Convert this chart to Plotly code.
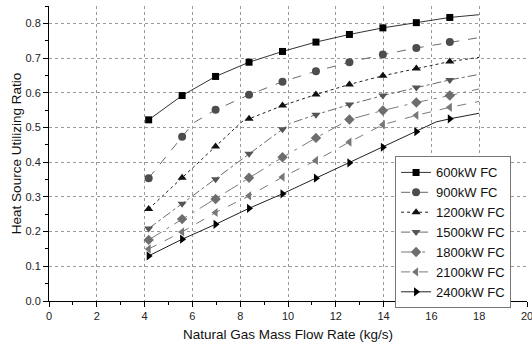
import plotly.graph_objects as go

# ---- data ----
x_markers = [4.17, 5.57, 6.97, 8.37, 9.77, 11.17, 12.57, 13.97, 15.37, 16.77]
x_end = 18.0

names = ["600kW FC", "900kW FC", "1200kW FC", "1500kW FC", "1800kW FC", "2100kW FC", "2400kW FC"]

y600 = [0.522, 0.592, 0.647, 0.688, 0.719, 0.746, 0.768, 0.787, 0.802, 0.817]
y900 = [0.354, 0.473, 0.551, 0.594, 0.632, 0.662, 0.688, 0.710, 0.729, 0.746]
y1200 = [0.265, 0.355, 0.445, 0.525, 0.563, 0.595, 0.624, 0.649, 0.670, 0.690]
y1500 = [0.209, 0.280, 0.351, 0.424, 0.495, 0.537, 0.566, 0.592, 0.615, 0.637]
y1800 = [0.176, 0.236, 0.294, 0.355, 0.414, 0.470, 0.523, 0.549, 0.572, 0.592]
y2100 = [0.150, 0.199, 0.255, 0.303, 0.357, 0.405, 0.458, 0.508, 0.535, 0.558]
y2400 = [0.130, 0.178, 0.221, 0.267, 0.309, 0.354, 0.398, 0.443, 0.488, 0.525]

# value of each curve at the end of its line (x = 18)
y_end = [0.825, 0.759, 0.702, 0.653, 0.611, 0.575, 0.541]

# extra (unmarked) points where a curve bends
kink_x = [None, 6.04, 8.08, 10.10, 12.25, None, 16.20]
kink_y = [None, 0.513, 0.517, 0.512, 0.512, None, 0.516]

series_y = [y600, y900, y1200, y1500, y1800, y2100, y2400]

# ---- styles ----
symbols = ["square", "circle", "triangle-up", "triangle-down", "diamond", "triangle-left", "triangle-right"]
marker_colors = ["#000000", "#4d4d4d", "#111111", "#555555", "#6e6e6e", "#777777", "#000000"]
line_colors = ["#333333", "#6a6a6a", "#222222", "#6a6a6a", "#7a7a7a", "#7a7a7a", "#222222"]
dashes = ["solid", "dash", "dot", "dashdot", "longdashdot", "dash", "solid"]
msizes = [7, 8, 8, 8, 8, 8, 8]

fig = go.Figure()

for i, name in enumerate(names):
    pts = list(zip(x_markers, series_y[i])) + [(x_end, y_end[i])]
    if kink_x[i] is not None:
        pts.append((kink_x[i], kink_y[i]))
    pts.sort()
    lx = [p[0] for p in pts]
    ly = [p[1] for p in pts]
    fig.add_trace(go.Scatter(
        x=lx, y=ly, mode="lines", showlegend=False, hoverinfo="skip",
        line=dict(color=line_colors[i], width=1, dash=dashes[i]),
    ))
    fig.add_trace(go.Scatter(
        x=x_markers, y=series_y[i], mode="markers", showlegend=False,
        marker=dict(symbol=symbols[i], size=msizes[i], color=marker_colors[i],
                    line=dict(width=0)),
    ))
    # legend entry
    fig.add_trace(go.Scatter(
        x=[None], y=[None], mode="lines+markers", name=name,
        line=dict(color=line_colors[i], width=1, dash=dashes[i]),
        marker=dict(symbol=symbols[i], size=msizes[i], color=marker_colors[i],
                    line=dict(width=0)),
    ))

font_family = "Liberation Sans, Arial, sans-serif"

fig.update_layout(
    width=532, height=349,
    margin=dict(l=49, r=5, t=6, b=48, autoexpand=False),
    paper_bgcolor="white", plot_bgcolor="white",
    font=dict(family=font_family, color="#222222", size=11),
    legend=dict(
        x=0.724, y=0.49, xanchor="left", yanchor="top",
        bgcolor="white", bordercolor="#777777", borderwidth=1,
        font=dict(size=13, color="#111111", family=font_family),
        tracegroupgap=0, itemwidth=30,
    ),
    xaxis=dict(
        range=[0, 20], tickmode="linear", tick0=0, dtick=2,
        showline=True, linecolor="#000000", linewidth=1,
        ticks="outside", ticklen=5, tickcolor="#000000",
        minor=dict(ticks="outside", ticklen=3, tickcolor="#000000", dtick=1, showgrid=False),
        showgrid=True, gridcolor="#9a9a9a", gridwidth=1, griddash="dot",
        zeroline=False, mirror=False, automargin=False, ticklabeloverflow="allow",
        tickfont=dict(size=11, color="#222222"),
        title=dict(text="Natural Gas Mass Flow Rate (kg/s)", font=dict(size=13.5, color="#111111"), standoff=8),
    ),
    yaxis=dict(
        range=[0, 0.85], tickmode="linear", tick0=0, dtick=0.1, tickformat=".1f",
        showline=True, linecolor="#000000", linewidth=1,
        ticks="outside", ticklen=5, tickcolor="#000000",
        minor=dict(ticks="outside", ticklen=3, tickcolor="#000000", dtick=0.05, showgrid=False),
        showgrid=True, gridcolor="#9a9a9a", gridwidth=1, griddash="dot",
        zeroline=False, mirror=False, automargin=False, ticklabeloverflow="allow",
        tickfont=dict(size=11, color="#222222"),
        title=dict(text="Heat Source Utilizing Ratio", font=dict(size=13.5, color="#111111"), standoff=0),
    ),
)

fig.write_html(
    "out.html",
    config={"displayModeBar": False},
    post_script="document.body.style.margin='0';document.body.style.overflow='hidden';",
)
